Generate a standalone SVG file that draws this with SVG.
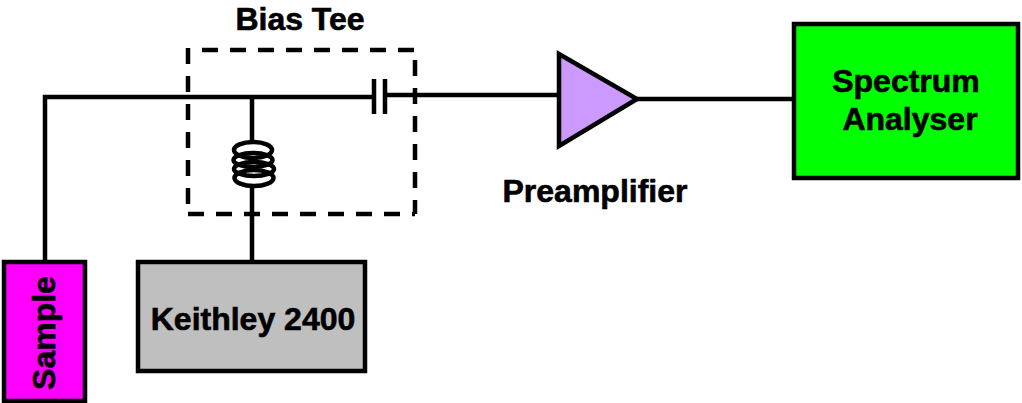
<svg xmlns="http://www.w3.org/2000/svg" width="1022" height="403" viewBox="0 0 1022 403">
<style>
text{font-family:"Liberation Sans",Arial,sans-serif;font-weight:bold;font-size:32px;fill:#000;stroke:#000;stroke-width:.6;text-anchor:middle}
.w{fill:none;stroke:#000;stroke-width:4.500}
.b{stroke:#000;stroke-width:4.500}
.d{fill:none;stroke:#000;stroke-width:4.500;stroke-dasharray:16 12}
</style>
<rect width="1022" height="403" fill="#fff"/>
<g id="connectors">
<path class="w" d="M45 261V97H372M387 95H558M637 99H794M252 97V142M252 186V262"/>
<path class="w" d="M374 79V114M385 79V114"/>
</g>
<g id="bias-tee"><path class="d" d="M202 50H415M188 48V214M415 60V214M188 214H415"/><text x="300" y="30">Bias Tee</text></g>
<g id="inductor"><g class="w"><ellipse cx="253" cy="150" rx="19" ry="8"/><ellipse cx="253" cy="160" rx="19.500" ry="7"/><ellipse cx="254" cy="169" rx="20" ry="7"/><ellipse cx="254" cy="178" rx="19.500" ry="8"/></g></g>
<g id="preamplifier"><path class="b" fill="#c9f" d="M559 54L637 99L559 146Z"/><text x="595" y="202">Preamplifier</text></g>
<g id="spectrum-analyser"><rect class="b" x="794" y="24" width="224" height="154" fill="#0f0"/><text x="906" y="92">Spectrum</text><text x="910" y="130">Analyser</text></g>
<g id="keithley"><rect class="b" x="138" y="262" width="227" height="109" fill="#bfbfbf"/><text x="253" y="330">Keithley 2400</text></g>
<g id="sample"><rect class="b" x="4" y="262" width="81" height="139" fill="#f0f"/><text transform="translate(55 333) rotate(-90)">Sample</text></g>
</svg>
